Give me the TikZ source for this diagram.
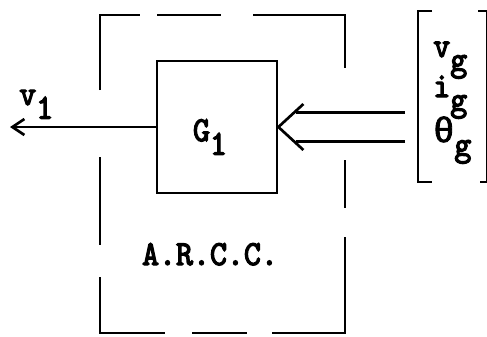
\documentclass[tikz,border=0pt]{standalone}
\usepackage{fontspec}
\usetikzlibrary{arrows.meta}
\newfontfamily\typew{lmmono10-regular.otf}[FakeBold=3.5,FakeStretch=0.92]
\newfontfamily\typegr{Liberation Mono}[FakeBold=2.5]
\newcommand{\lowsub}[1]{\raisebox{-0.9ex}{#1}}
\begin{document}
\begin{tikzpicture}[x=0.25mm,y=-0.25mm,inner sep=0pt,
    font=\fontsize{25}{30}\typew,
    blk/.style={draw,line width=2pt,minimum width=30mm,minimum height=33mm},
    frame/.style={line width=1.4pt},
    wire/.style={line width=1.9pt}]
  \useasboundingbox (0,0) rectangle (487,336);
  % broken outer box
  \draw[frame] (100,90) -- (100,15) -- (140,15);
  \draw[frame] (157,15) -- (221,15);
  \draw[frame] (253,15) -- (345,15) -- (345,68);
  \draw[frame] (100,157) -- (100,245);
  \draw[frame] (345,160) -- (345,208);
  \draw[frame] (100,277) -- (100,333) -- (165,333);
  \draw[frame] (192,333) -- (247,333);
  \draw[frame] (345,237) -- (345,333) -- (272,333);
  % block
  \node[blk] (g) at (217,127) {};
  \node (gl) at (210,137) {G\lowsub{1}};
  \node[anchor=base] (arcc) at (210,265) {A.R.C.C.};
  % output
  \coordinate (vout) at (10,127);
  \draw[wire,-{Straight Barb[length=3mm,width=4mm]}] (g.west) -- (vout);
  \node[anchor=base west] (vl) at (19,105) {v\lowsub{1}};
  % input vector
  \coordinate (vin) at (405,127);
  \draw[wire,double,double distance=6.5mm] (vin) -- ([xshift=4.5mm]g.east);
  \draw[wire] (g.east) ++(25,-23) -- (g.east) -- ++(25,23);
  \draw[wire] (432,11) -- (418,11) -- (418,182) -- (432,182);
  \draw[wire] (478,11) -- (487,11) -- (487,182) -- (480,182);
  \node[anchor=base west] (vg) at (433,57) {v\lowsub{g}};
  \node[anchor=base west] (ig) at (433,97) {i\lowsub{g}};
  \node[anchor=base west] (tg) at (433,142) {{\typegr θ}\lowsub{g}};
\end{tikzpicture}
\end{document}
